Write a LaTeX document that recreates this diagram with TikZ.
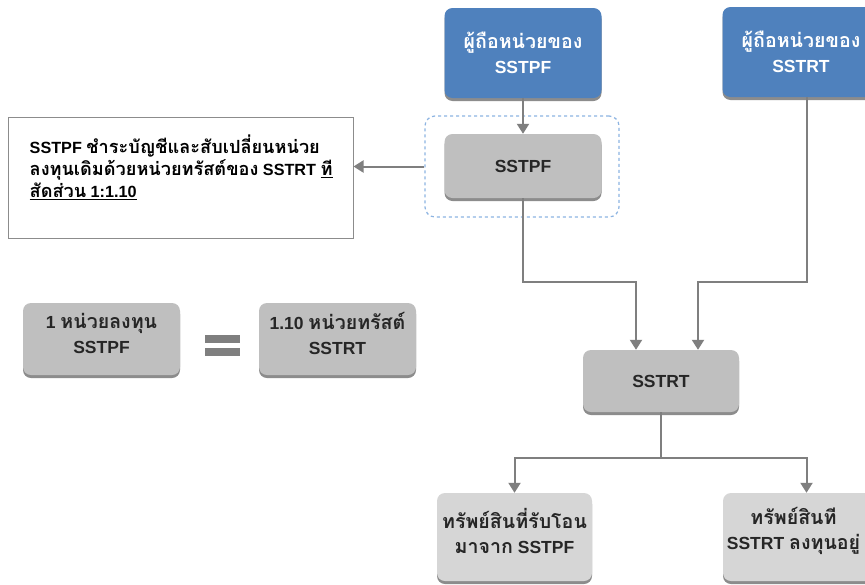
\documentclass[tikz,border=0pt]{standalone}
\usepackage{fontspec}
\setmainfont{Liberation Sans}
\newfontfamily\thf[Script=Thai,Scale=1.12]{Loma}
\usetikzlibrary{shadows,arrows.meta}
\definecolor{bluebox}{HTML}{4F81BD}
\definecolor{graybox}{HTML}{BFBFBF}
\definecolor{lightbox}{HTML}{D6D6D6}
\definecolor{linegray}{HTML}{7F7F7F}
\definecolor{dashblue}{HTML}{8DB4E2}
\begin{document}
\begin{tikzpicture}[x=1pt,y=-1pt,
  box/.style={rounded corners=8pt, minimum width=157pt, minimum height=64pt, inner sep=0pt,
    drop shadow={shadow xshift=0pt, shadow yshift=-3pt, fill=black!45, opacity=1}},
  txt/.style={align=center, inner sep=0pt, font=\bfseries\fontsize{17.5}{25}\selectfont},
  bluen/.style={box, fill=bluebox, text=white, minimum height=90pt},
  grayn/.style={box, fill=graybox, text=black!85},
  lightn/.style={box, fill=lightbox, text=black!85},
  arr/.style={draw=linegray, line width=2pt, -{Triangle[length=10pt,width=12pt]}},
  ln/.style={draw=linegray, line width=2pt}]
\useasboundingbox (0,0) rectangle (865,584);
\clip (0,0) rectangle (865,584);
\fill[white] (0,0) rectangle (865,584);

% blue owner boxes
\node[bluen, txt] (b1) at (523,53) {{\thf ผู้ถือหน่วยของ}\\SSTPF};
\node[bluen, txt] (b2) at (801,52) {{\thf ผู้ถือหน่วยของ}\\SSTRT};

% SSTPF box and dashed frame
\node[grayn, txt] (s1) at (523,166) {SSTPF};
\node[draw=dashblue, dashed, line width=1.2pt, rounded corners=10pt, minimum width=194pt, minimum height=101pt] (df) at (522,166.5) {};

% note box
\node[draw=black!45, line width=1pt, minimum width=345pt, minimum height=121pt] (tb) at (180.5,177.5) {};
\node[anchor=west, align=left, inner sep=0pt, font=\bfseries\fontsize{16.2}{22}\selectfont] (tbt) at ([xshift=22pt,yshift=10pt]tb.west)
  {SSTPF {\thf ชำระบัญชีและสับเปลี่ยนหน่วย}\\{\thf ลงทุนเดิมด้วยหน่วยทรัสต์ของ} SSTRT \underline{\thf ที}\\\underline{{\thf สัดส่วน} 1:1.10}};

% equivalence
\node[grayn, minimum height=72pt,
  label={[txt, text=black!85, yshift=6pt]center:{1 {\thf หน่วยลงทุน}\\SSTPF}}] (ua) at (101.5,339) {};
\node[grayn, minimum height=72pt,
  label={[txt, text=black!85, yshift=6pt]center:{1.10 {\thf หน่วยทรัสต์}\\SSTRT}}] (ub) at (337.5,339) {};
\node[fill=linegray, minimum width=35pt, minimum height=8pt, inner sep=0pt] (eq1) at (222.5,339) {};
\node[fill=linegray, minimum width=35pt, minimum height=8pt, inner sep=0pt] (eq2) at (222.5,352) {};

% SSTRT
\node[grayn, txt, minimum width=156pt, minimum height=62pt] (st) at (661,381) {SSTRT};

% bottom boxes
\node[lightn, minimum width=155pt, minimum height=88pt,
  label={[txt, text=black!85, yshift=6pt]center:{{\thf ทรัพย์สินที่รับโอน}\\{\thf มาจาก} SSTPF}}] (bl) at (514.5,537) {};
\node[lightn, minimum width=157pt, minimum height=88pt,
  label={[txt, text=black!85, yshift=6pt, xshift=-8pt]center:{{\thf ทรัพย์สินที}\\SSTRT {\thf ลงทุนอยู่}}}] (br) at (801.5,537) {};

% connectors
\coordinate (y1) at (0,282);
\coordinate (y2) at (0,458);
\draw[arr] (b1.south) -- (s1.north);
\draw[arr] (df.west) -- (df.west -| tb.east);
\draw[arr] (s1.south) -- (s1.south |- y1) -| ([xshift=-25pt]st.north);
\draw[arr] ([xshift=6pt]b2.south) -- ([xshift=6pt]b2.south |- y1) -| ([xshift=37pt]st.north);
\draw[ln] (st.south) -- (st.south |- y2);
\draw[arr] (st.south |- y2) -| (bl.north);
\draw[arr] (st.south |- y2) -| ([xshift=5pt]br.north);
\end{tikzpicture}
\end{document}
